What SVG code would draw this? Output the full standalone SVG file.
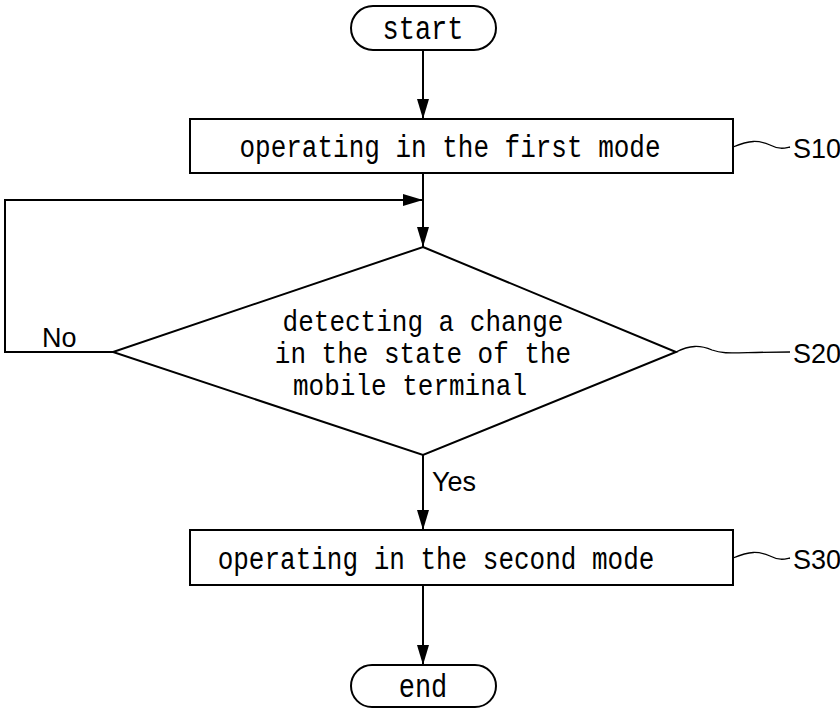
<svg xmlns="http://www.w3.org/2000/svg" width="840" height="709" viewBox="0 0 840 709">
<defs>
<marker id="ahb" viewBox="0 0 20 12" refX="20" refY="6" markerWidth="20" markerHeight="12" orient="auto" markerUnits="userSpaceOnUse">
<path d="M0,0 L20,6 L0,12 Z" fill="#000"/>
</marker>
</defs>
<style>
.s{fill:#fff;stroke:#000;stroke-width:2}
.t{font-family:"Liberation Mono",monospace;font-size:26px;fill:#000;text-anchor:middle}
.d{font-family:"Liberation Mono",monospace;font-size:26px;fill:#000;text-anchor:middle}
.l{font-family:"Liberation Sans Narrow","Liberation Sans",sans-serif;font-size:27px;fill:#000}
.c{fill:none;stroke:#000;stroke-width:2}
.w{fill:none;stroke:#000;stroke-width:1.3}
</style>
<rect width="840" height="709" fill="#fff"/>
<g id="connectors">
<line class="c" x1="423" y1="50" x2="423" y2="119" marker-end="url(#ahb)"/>
<line class="c" x1="423" y1="173" x2="423" y2="247" marker-end="url(#ahb)"/>
<polyline class="c" points="113,352 5,352 5,200 423,200" marker-end="url(#ahb)"/>
<line class="c" x1="423" y1="455" x2="423" y2="530" marker-end="url(#ahb)"/>
<line class="c" x1="423" y1="585" x2="423" y2="665" marker-end="url(#ahb)"/>
<text class="l" x="42" y="347">No</text>
<text class="l" x="432" y="491">Yes</text>
</g>
<g id="start">
<rect class="s" x="351" y="6" width="145" height="44" rx="22"/>
<text class="t" transform="translate(423,39) scale(1,1.2)" style="font-size:27px">start</text>
</g>
<g id="S10">
<rect class="s" x="190" y="119" width="543" height="54"/>
<text class="t" transform="translate(450,157) scale(1,1.2)">operating in the first mode</text>
<path class="w" d="M733,147 C750,140 758,140 770,145 C780,150 785,148 790,147"/>
<text class="l" x="793" y="158">S10</text>
</g>
<g id="S20">
<polygon class="s" points="423,247 676,352 423,455 113,352"/>
<text class="d" transform="translate(423,331) scale(1,1.1)">detecting a change</text>
<text class="d" transform="translate(423,363) scale(1,1.1)">in the state of the</text>
<text class="d" transform="translate(410,395) scale(1,1.1)">mobile terminal</text>
<path class="w" d="M676,352 C690,345 700,345 712,350 C725,355 735,352 790,352"/>
<text class="l" x="793" y="363">S20</text>
</g>
<g id="S30">
<rect class="s" x="190" y="530" width="543" height="55"/>
<text class="t" transform="translate(436,569) scale(1,1.2)">operating in the second mode</text>
<path class="w" d="M733,558 C750,551 758,551 770,556 C780,561 785,559 790,558"/>
<text class="l" x="793" y="569">S30</text>
</g>
<g id="end">
<rect class="s" x="351" y="665" width="145" height="42" rx="21"/>
<text class="t" transform="translate(423,697) scale(1,1.2)" style="font-size:27px">end</text>
</g>
</svg>
